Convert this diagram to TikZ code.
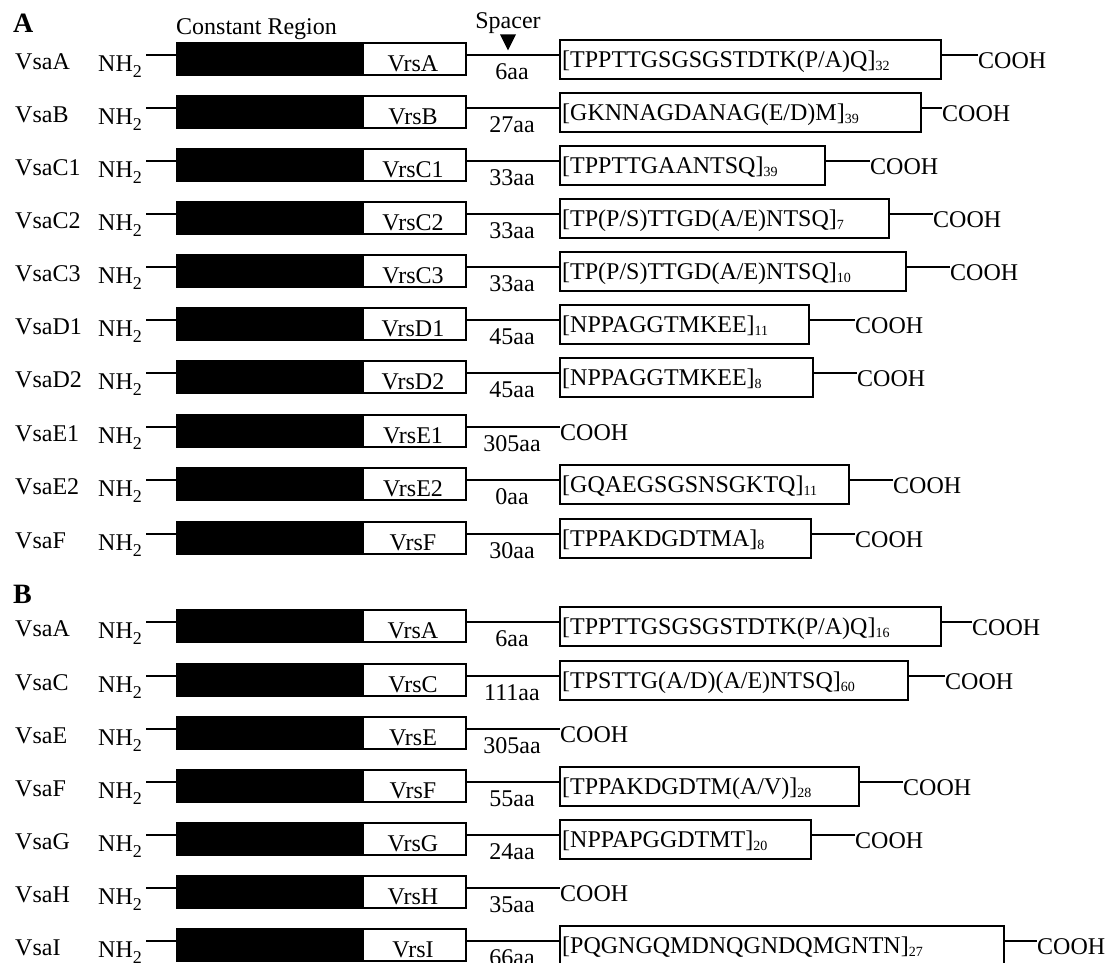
\documentclass[tikz,border=0pt]{standalone}
\usepackage{fontspec}
\setmainfont{Liberation Serif}
\newcommand\rsub[1]{\raisebox{-3pt}{\fontsize{14}{14}\selectfont #1}}
\newcommand\nsub{\raisebox{-6pt}{\fontsize{18}{18}\selectfont 2}}
\newcommand\vrow[8]{%
 \node[lab,anchor=base west] (v#1) at (15,{-#2-14}) {#3};
 \node[lab,anchor=base west] (n#1) at (98,{-#2-16}) {NH\nsub};
 \coordinate (s#1) at (146,{-#2});
 \node[blk,anchor=north west] (k#1) at (176,{-#2+13}) {};
 \node[wbx,anchor=north west] (w#1) at (362,{-#2+13}) {};
 \node[lab,anchor=base] (t#1) at (413,{-#2-16}) {#4};
 \draw[ln] (s#1) -- (s#1 -| k#1.west);
 \node[lab,anchor=base] (a#1) at (512,{-#2-24}) {#5};
 \node[lab,anchor=base west] (c#1) at (#8,{-#2-13}) {COOH};
 \ifx&#6&
   \draw[ln] (s#1 -| w#1.east) -- (s#1 -| c#1.west);
 \else
   \node[rbx,anchor=north west,minimum width={#7-559}] (r#1) at (559,{-#2+16}) {};
   \node[lab,anchor=base west] (q#1) at (562,{-#2-12}) {#6};
   \draw[ln] (s#1 -| w#1.east) -- (s#1 -| r#1.west);
   \draw[ln] (s#1 -| r#1.east) -- (s#1 -| c#1.west);
 \fi}
\begin{document}
\begin{tikzpicture}[x=1pt,y=1pt,
  every node/.style={font=\fontsize{24}{28}\selectfont},
  lab/.style={inner sep=0pt},
  blk/.style={fill=black,draw=black,line width=1.6pt,inner sep=0pt,minimum width=186pt,minimum height=32pt},
  wbx/.style={draw=black,fill=white,line width=1.6pt,inner sep=0pt,minimum width=103pt,minimum height=32pt},
  rbx/.style={draw=black,line width=1.6pt,inner sep=0pt,minimum height=39pt},
  ln/.style={line width=1.6pt},
  hdr/.style={inner sep=0pt,font=\bfseries\fontsize{28}{30}\selectfont}]
\useasboundingbox (0,0) rectangle (1107,-962);
% headers
\node[hdr,anchor=base west] (hA) at (13,-32) {A};
\node[lab,anchor=base west] (cr) at (176,-34) {Constant Region};
\node[lab,anchor=base] (sp) at (508,-28) {Spacer};
\fill (sp.south) ++(-8,-1) -- ++(16,0) -- ++(-8,-16) -- cycle;
% panel A
\vrow{A1}{55}{VsaA}{VrsA}{6aa}{[TPPTTGSGSGSTDTK(P/A)Q]\rsub{32}}{940}{978}
\vrow{A2}{108}{VsaB}{VrsB}{27aa}{[GKNNAGDANAG(E/D)M]\rsub{39}}{920}{942}
\vrow{A3}{161}{VsaC1}{VrsC1}{33aa}{[TPPTTGAANTSQ]\rsub{39}}{824}{870}
\vrow{A4}{214}{VsaC2}{VrsC2}{33aa}{[TP(P/S)TTGD(A/E)NTSQ]\rsub{7}}{888}{933}
\vrow{A5}{267}{VsaC3}{VrsC3}{33aa}{[TP(P/S)TTGD(A/E)NTSQ]\rsub{10}}{905}{950}
\vrow{A6}{320}{VsaD1}{VrsD1}{45aa}{[NPPAGGTMKEE]\rsub{11}}{808}{855}
\vrow{A7}{373}{VsaD2}{VrsD2}{45aa}{[NPPAGGTMKEE]\rsub{8}}{812}{857}
\vrow{A8}{427}{VsaE1}{VrsE1}{305aa}{}{0}{560}
\vrow{A9}{480}{VsaE2}{VrsE2}{0aa}{[GQAEGSGSNSGKTQ]\rsub{11}}{848}{893}
\vrow{A10}{534}{VsaF}{VrsF}{30aa}{[TPPAKDGDTMA]\rsub{8}}{810}{855}
% panel B
\node[hdr,anchor=base west] (hB) at (13,-603) {B};
\vrow{B1}{622}{VsaA}{VrsA}{6aa}{[TPPTTGSGSGSTDTK(P/A)Q]\rsub{16}}{940}{972}
\vrow{B2}{676}{VsaC}{VrsC}{111aa}{[TPSTTG(A/D)(A/E)NTSQ]\rsub{60}}{907}{945}
\vrow{B3}{729}{VsaE}{VrsE}{305aa}{}{0}{560}
\vrow{B4}{782}{VsaF}{VrsF}{55aa}{[TPPAKDGDTM(A/V)]\rsub{28}}{858}{903}
\vrow{B5}{835}{VsaG}{VrsG}{24aa}{[NPPAPGGDTMT]\rsub{20}}{810}{855}
\vrow{B6}{888}{VsaH}{VrsH}{35aa}{}{0}{560}
\vrow{B7}{941}{VsaI}{VrsI}{66aa}{[PQGNGQMDNQGNDQMGNTN]\rsub{27}}{1003}{1037}
\end{tikzpicture}
\end{document}
